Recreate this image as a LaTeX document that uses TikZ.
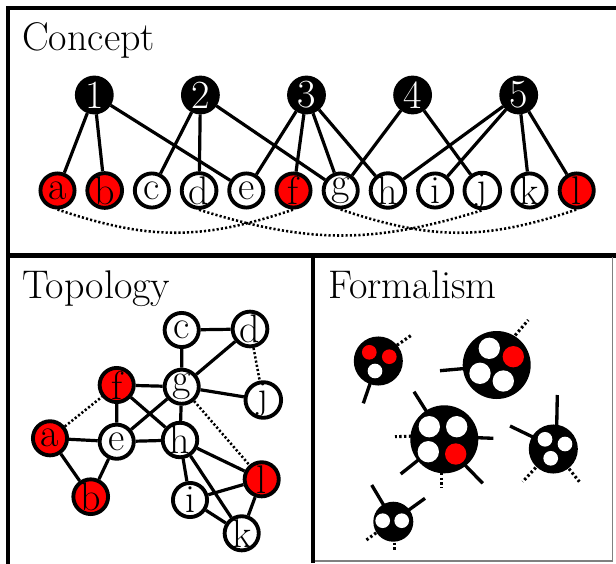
\documentclass[tikz,border=0pt]{standalone}
\usepackage{fontspec}
\setmainfont{Latin Modern Roman}
\newcommand{\fs}{\fontsize{30}{35}\selectfont}
\tikzset{
  wn/.style={circle, draw=black, fill=white, line width=2.9pt, minimum size=25.6pt, inner sep=0pt, font=\fs},
  rn/.style={wn, fill=red},
  bn/.style={circle, draw=black, fill=black, line width=2.6pt, minimum size=26.5pt, inner sep=0pt, text=white, font=\fs},
  edge/.style={line width=2.4pt},
  dotl/.style={line width=1.9pt, dash pattern=on 1.6pt off 1.6pt},
  frame/.style={line width=3pt},
  title/.style={anchor=base west, inner sep=0pt, font=\fs},
  stub/.style={line width=2.5pt},
  dstub/.style={line width=2.3pt, dash pattern=on 1.8pt off 1.8pt},
}
\begin{document}
\begin{tikzpicture}[x=0.75pt,y=-0.75pt]
\useasboundingbox (0,0) rectangle (616,563);
% frames
\draw[frame, line cap=rect] (616,7.6) -- (8.3,7.6) -- (8.3,563);
\draw[line width=3.3pt] (8.3,255.5) -- (616,255.5);
\draw[frame] (313.3,255.5) -- (313.3,563);
\draw[gray, line width=0.8pt] (612.8,257) -- (612.8,561) -- (315,561);
% titles
\node[title] (tc) at (22,51) {Concept};
\node[title] (tt) at (22,298) {Topology};
\node[title] (tf) at (328,298) {Formalism};
% ---------- Concept ----------
\node[bn] (n1) at (94.3,95) {1};
\node[bn] (n2) at (200.4,95) {2};
\node[bn] (n3) at (306.5,95) {3};
\node[bn] (n4) at (412.6,95) {4};
\node[bn] (n5) at (518.7,95) {5};
\node[rn] (ca) at (57.5,190.5) {a};
\node[rn] (cb) at (104.7,190.5) {b};
\node[wn] (cc) at (151.9,190.5) {c};
\node[wn] (cd) at (199.1,190.5) {d};
\node[wn] (ce) at (246.3,190.5) {e};
\node[rn] (cf) at (293.5,190.5) {f};
\node[wn] (cg) at (340.7,190.5) {g};
\node[wn] (ch) at (387.9,190.5) {h};
\node[wn] (ci) at (435.1,190.5) {i};
\node[wn] (cj) at (482.3,190.5) {j};
\node[wn] (ck) at (529.5,190.5) {k};
\node[rn] (cl) at (576.7,190.5) {l};
\draw[edge] (n1)--(ca) (n1)--(cb) (n1)--(ce);
\draw[edge] (n2)--(cc) (n2)--(cd) (n2)--(cg);
\draw[edge] (n3)--(ce) (n3)--(cf) (n3)--(cg) (n3)--(ch);
\draw[edge] (n4)--(cg) (n4)--(cj);
\draw[edge] (n5)--(ch) (n5)--(ci) (n5)--(ck) (n5)--(cl);
\draw[dotl] (ca.south) .. controls +(92,31) and +(-92,31) .. (cf.south);
\draw[dotl] (cd.south) .. controls +(110,34) and +(-110,34) .. (cj.south);
\draw[dotl] (cg.south) .. controls +(92,31) and +(-92,31) .. (cl.south);
% ---------- Topology ----------
\node[wn] (tc1) at (181.7,330) {c};
\node[wn] (td) at (250,329) {d};
\node[rn] (tf1) at (116.7,385) {f};
\node[wn] (tg) at (181.7,386.7) {g};
\node[wn] (tj) at (263.3,400) {j};
\node[rn] (ta) at (50,438.3) {a};
\node[wn] (te) at (116.7,441.7) {e};
\node[wn] (th) at (180,440) {h};
\node[rn] (tl) at (261.7,479.3) {l};
\node[rn] (tb) at (90.7,496.7) {b};
\node[wn] (ti) at (190,500) {i};
\node[wn] (tk) at (241.7,533.3) {k};
\draw[edge] (ta)--(tb) (ta)--(te) (tb)--(te);
\draw[edge] (tc1)--(td) (tc1)--(tg) (td)--(tg);
\draw[edge] (te)--(tf1) (te)--(tg) (te)--(th) (tf1)--(tg) (tf1)--(th) (tg)--(th);
\draw[edge] (tg)--(tj);
\draw[edge] (th)--(ti) (th)--(tk) (th)--(tl) (ti)--(tk) (ti)--(tl) (tk)--(tl);
\draw[dotl] (ta)--(tf1) (td)--(tj) (tg)--(tl);
% ---------- Formalism ----------
% blob A
\draw[stub] (372,378) -- (363.3,403.3);
\draw[dstub] (393,348) -- (411.7,335);
\fill (378.3,361) circle[radius=18.4pt];
\fill[red] (369.3,352.3) circle[radius=5.5pt];
\fill[red] (389.3,356.7) circle[radius=5.5pt];
\fill[white] (375,371) circle[radius=5.5pt];
% blob B
\draw[stub] (470,368) -- (440,370.7);
\draw[dstub] (512,339) -- (528.3,320);
\fill (496.7,365) circle[radius=25.5pt];
\fill[white] (489.3,348.3) circle[radius=8pt];
\fill[red] (513.3,356.7) circle[radius=8pt];
\fill[white] (480,373.3) circle[radius=8pt];
\fill[white] (503.3,381) circle[radius=8pt];
% blob C
\draw[stub] (430,417) -- (414,391.7);
\draw[dstub] (416,436) -- (395,436.7);
\draw[stub] (472,437.5) -- (493.3,438.3);
\draw[stub] (422,457) -- (400.7,474);
\draw[dstub] (441.7,468) -- (441.7,488.3);
\draw[stub] (462,462) -- (482.7,483.3);
\fill (444.3,439.3) circle[radius=25.5pt];
\fill[white] (429.3,426.7) circle[radius=8pt];
\fill[white] (456.7,426.7) circle[radius=8pt];
\fill[white] (428.3,451.7) circle[radius=8pt];
\fill[red] (455.7,454) circle[radius=8pt];
% blob D
\draw[stub] (556.6,431) -- (557.3,395);
\draw[stub] (537,439) -- (510,426);
\draw[dstub] (539,464) -- (522.7,481.7);
\draw[dstub] (566,465) -- (579.3,481.7);
\fill (553.3,449) circle[radius=18.4pt];
\fill[white] (545,439.3) circle[radius=5.5pt];
\fill[white] (565,444) circle[radius=5.5pt];
\fill[white] (550.7,458.3) circle[radius=5.5pt];
% blob E
\draw[stub] (386,509) -- (371.7,485);
\draw[stub] (406,512) -- (425,498.3);
\draw[dstub] (380,530) -- (365,541);
\draw[dstub] (394.3,533) -- (394.3,551.7);
\fill (393.3,521.7) circle[radius=15pt];
\fill[white] (382.7,520.7) circle[radius=5.5pt];
\fill[white] (401.7,520.7) circle[radius=5.5pt];
\end{tikzpicture}
\end{document}
